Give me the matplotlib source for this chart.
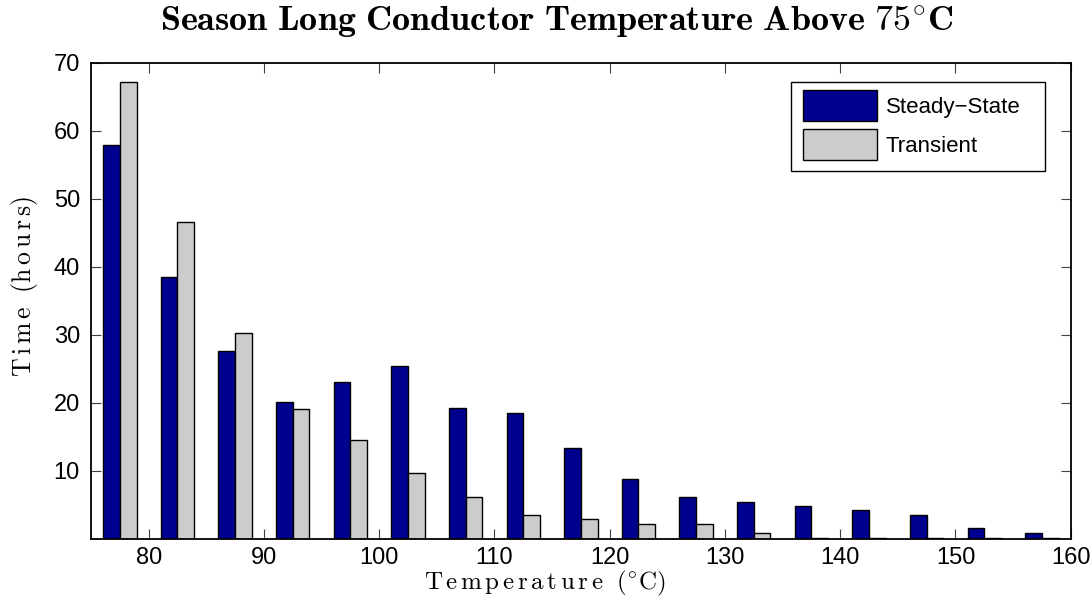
import matplotlib
matplotlib.use("Agg")
import matplotlib.pyplot as plt
from matplotlib.patches import Rectangle
import numpy as np

# Histogram bin centres (°C) and hours spent in each bin
bin_centers = [77.5, 82.5, 87.5, 92.5, 97.5, 102.5, 107.5, 112.5, 117.5,
               122.5, 127.5, 132.5, 137.5, 142.5, 147.5, 152.5, 157.5]
steady_state = [57.8, 38.4, 27.6, 20.1, 23.0, 25.4, 19.2, 18.5, 13.3,
                8.7, 6.1, 5.4, 4.8, 4.2, 3.5, 1.5, 0.8]
transient = [67.2, 46.6, 30.2, 19.1, 14.5, 9.7, 6.1, 3.5, 2.8,
             2.2, 2.2, 0.8, 0.1, 0.1, 0.05, 0.05, 0.05]

x_ticks = [80, 90, 100, 110, 120, 130, 140, 150, 160]
y_ticks = [10, 20, 30, 40, 50, 60, 70]

series_names = ["Steady\u2212State", "Transient"]
series_colors = ["#00008F", "#CCCCCC"]

plt.rcParams["mathtext.fontset"] = "cm"
plt.rcParams["font.family"] = ["Liberation Sans", "DejaVu Sans"]

W, H = 1092, 602
fig = plt.figure(figsize=(W / 100, H / 100), dpi=100)
ax_l, ax_r, ax_t, ax_b = 91, 1070.7, 62.5, 538.5
ax = fig.add_axes([ax_l / W, 1 - ax_b / H, (ax_r - ax_l) / W, (ax_b - ax_t) / H])


def px_to_axes(px, py):
    return (px - ax_l) / (ax_r - ax_l), 1 - (py - ax_t) / (ax_b - ax_t)


bw = 1.45
xc = np.array(bin_centers)
ax.bar(xc - bw / 2, steady_state, width=bw, color=series_colors[0],
       edgecolor="black", linewidth=1.0, label=series_names[0], zorder=2)
ax.bar(xc + bw / 2, transient, width=bw, color=series_colors[1],
       edgecolor="black", linewidth=1.0, label=series_names[1], zorder=2)

ax.set_xlim(75, 160)
ax.set_ylim(0, 70)
ax.set_xticks(x_ticks)
ax.set_yticks(y_ticks)
ax.tick_params(direction="in", length=7.5, width=0.8, color="0.25",
               top=True, right=True, labelsize=17)
ax.tick_params(axis="x", pad=6)
ax.tick_params(axis="y", pad=8)
for s in ax.spines.values():
    s.set_linewidth(1.3)
    s.set_zorder(3)

fig.text(557 / W, 1 - 22 / H,
         r"$\mathbf{Season\ Long\ Conductor\ Temperature\ Above}\ 75^{\circ}\mathbf{C}$",
         fontsize=26, ha="center", va="center")
fig.text(545 / W, 1 - 583 / H,
         r"$\mathrm{T\,e\,m\,p\,e\,r\,a\,t\,u\,r\,e}\ \ (^{\circ}\mathrm{C})$",
         fontsize=18, ha="center", va="center")
fig.text(25 / W, 1 - 287 / H,
         r"$\mathrm{T\,i\,m\,e}\ \ (\mathrm{h\,o\,u\,r\,s})$",
         fontsize=18.5, ha="center", va="center", rotation=90)

# Legend entries without their own frame; a separate box is drawn around them
leg = ax.legend(loc="upper left", bbox_to_anchor=px_to_axes(803, 90), fontsize=16,
                frameon=False, handlelength=3.33, handleheight=1.77,
                handletextpad=0.4, borderpad=0.0, labelspacing=0.37,
                borderaxespad=0.0)
for h in leg.legend_handles:
    h.set_linewidth(1.0)
    h.set_edgecolor("black")

x0, y0 = px_to_axes(790.7, 171)
x1, y1 = px_to_axes(1045.3, 81.7)
ax.add_patch(Rectangle((x0, y0), x1 - x0, y1 - y0, transform=ax.transAxes,
                       facecolor="white", edgecolor="black", linewidth=1.0,
                       zorder=4))
leg.set_zorder(5)

fig.savefig("out.png", dpi=100)
